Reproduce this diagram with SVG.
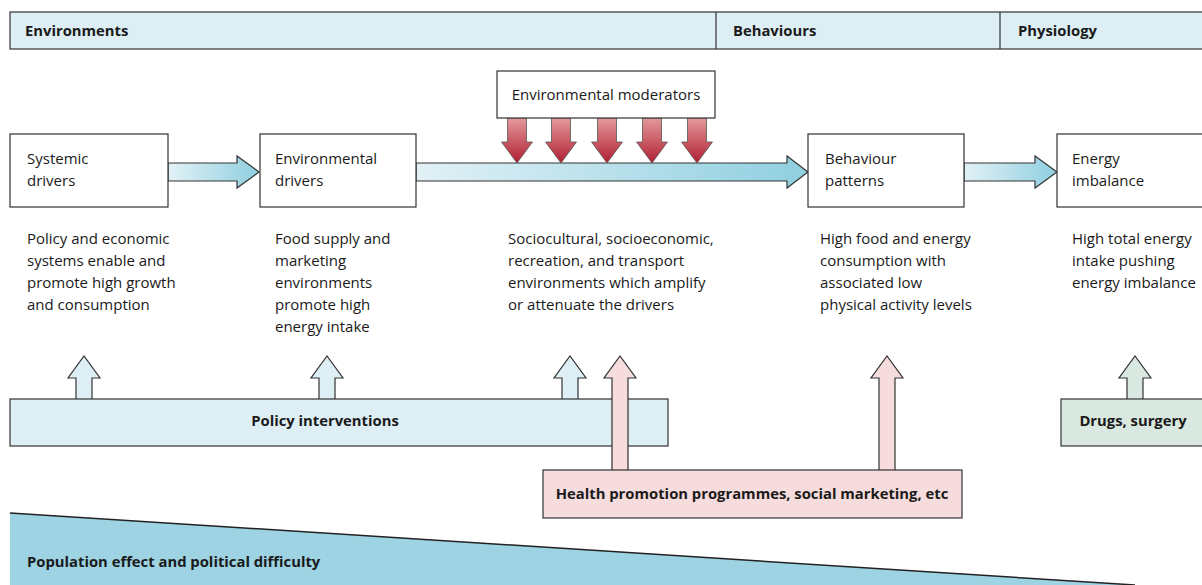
<svg xmlns="http://www.w3.org/2000/svg" width="1202" height="585" viewBox="0 0 1202 585">
<defs>
<linearGradient id="gH" x1="0" y1="0" x2="1" y2="0">
<stop offset="0" stop-color="#e2f1f6"/>
<stop offset="1" stop-color="#8fcfe0"/>
</linearGradient>
<linearGradient id="gR" x1="0" y1="0" x2="0" y2="1">
<stop offset="0" stop-color="#e39a9c"/>
<stop offset="1" stop-color="#b01f32"/>
</linearGradient>
<style>
.t{font-family:"Open Sans","Liberation Sans",sans-serif;font-size:15px;fill:#1a1a1a}
.b{font-family:"Open Sans","Liberation Sans",sans-serif;font-size:14.8px;font-weight:bold;fill:#1a1a1a}
.box{fill:#fff;stroke:#333;stroke-width:1.2}
.ln{stroke:#333;stroke-width:1.2}
.ha{fill:url(#gH);stroke:#333;stroke-width:1.2;stroke-linejoin:miter}
.ra{fill:url(#gR);stroke:#555;stroke-width:0.8}
.ub{fill:#ddeff5;stroke:#333;stroke-width:1.2}
.up{fill:#f6dcdc;stroke:#333;stroke-width:1.2}
.ug{fill:#d9e8e0;stroke:#333;stroke-width:1.2}
</style>
</defs>

<g id="header">
<rect x="10" y="12" width="1200" height="37" fill="#ddeff5" stroke="#333" stroke-width="1.2"/>
<line class="ln" x1="716" y1="12" x2="716" y2="49"/>
<line class="ln" x1="1000" y1="12" x2="1000" y2="49"/>
<text class="b" x="25" y="36">Environments</text>
<text class="b" x="733" y="36">Behaviours</text>
<text class="b" x="1018" y="36">Physiology</text>
</g>

<g id="population">
<polygon points="10,513 1135,585 10,585" fill="#9dd3e3"/>
<line x1="10" y1="513" x2="1135" y2="585" stroke="#222" stroke-width="1.5"/>
<text class="b" x="27" y="567">Population effect and political difficulty</text>
</g>

<g id="connectors">
<path class="ha" d="M168,163 H237 V156 L259,172 L237,188 V181 H168 Z"/>
<path class="ha" d="M416,163 H787 V156 L808,172 L787,188 V181 H416 Z"/>
<path class="ha" d="M964,163 H1035 V156 L1057,172 L1035,188 V181 H964 Z"/>
<path class="ra" d="M507.5,118 V142 H501.5 L517,163 L532.5,142 H526.5 V118 Z"/>
<path class="ra" d="M551.5,118 V142 H545.5 L561,163 L576.5,142 H570.5 V118 Z"/>
<path class="ra" d="M597.5,118 V142 H591.5 L607,163 L622.5,142 H616.5 V118 Z"/>
<path class="ra" d="M642.5,118 V142 H636.5 L652,163 L667.5,142 H661.5 V118 Z"/>
<path class="ra" d="M687.5,118 V142 H681.5 L697,163 L712.5,142 H706.5 V118 Z"/>
<path class="ub" d="M76,399 V378 H68 L84,356 L100,378 H92 V399"/>
<path class="ub" d="M319,399 V378 H311 L327,356 L343,378 H335 V399"/>
<path class="ub" d="M562,399 V378 H554 L570,356 L586,378 H578 V399"/>
<path class="ug" d="M1127,399 V378 H1119 L1135,356 L1151,378 H1143 V399"/>
</g>

<g id="moderators">
<rect class="box" x="497" y="71" width="218" height="47"/>
<text class="t" x="606" y="100" text-anchor="middle">Environmental moderators</text>
</g>

<g id="systemic">
<rect class="box" x="10" y="134" width="158" height="73"/>
<text class="t" x="27" y="164">Systemic</text>
<text class="t" x="27" y="186">drivers</text>
<text class="t" x="27" y="244">Policy and economic</text>
<text class="t" x="27" y="266">systems enable and</text>
<text class="t" x="27" y="288">promote high growth</text>
<text class="t" x="27" y="310">and consumption</text>
</g>

<g id="environmental">
<rect class="box" x="260" y="134" width="156" height="73"/>
<text class="t" x="275" y="164">Environmental</text>
<text class="t" x="275" y="186">drivers</text>
<text class="t" x="275" y="244">Food supply and</text>
<text class="t" x="275" y="266">marketing</text>
<text class="t" x="275" y="288">environments</text>
<text class="t" x="275" y="310">promote high</text>
<text class="t" x="275" y="332">energy intake</text>
</g>

<g id="moderators-text">
<text class="t" x="508" y="244">Sociocultural, socioeconomic,</text>
<text class="t" x="508" y="266">recreation, and transport</text>
<text class="t" x="508" y="288">environments which amplify</text>
<text class="t" x="508" y="310">or attenuate the drivers</text>
</g>

<g id="behaviour">
<rect class="box" x="808" y="134" width="156" height="73"/>
<text class="t" x="825" y="164">Behaviour</text>
<text class="t" x="825" y="186">patterns</text>
<text class="t" x="820" y="244">High food and energy</text>
<text class="t" x="820" y="266">consumption with</text>
<text class="t" x="820" y="288">associated low</text>
<text class="t" x="820" y="310">physical activity levels</text>
</g>

<g id="energy">
<rect class="box" x="1057" y="134" width="160" height="73"/>
<text class="t" x="1072" y="164">Energy</text>
<text class="t" x="1072" y="186">imbalance</text>
<text class="t" x="1072" y="244">High total energy</text>
<text class="t" x="1072" y="266">intake pushing</text>
<text class="t" x="1072" y="288">energy imbalance</text>
</g>

<g id="policy">
<rect x="10" y="399" width="658" height="47" fill="#ddeff5" stroke="#333" stroke-width="1.2"/>
<text class="b" x="325" y="426" text-anchor="middle">Policy interventions</text>
</g>

<g id="drugs">
<rect x="1061" y="399" width="150" height="47" fill="#d9e8e0" stroke="#333" stroke-width="1.2"/>
<text class="b" x="1133" y="426" text-anchor="middle">Drugs, surgery</text>
</g>

<g id="health">
<path class="up" d="M612,470 V378 H604 L620,356 L636,378 H628 V470"/>
<path class="up" d="M879,470 V378 H871 L887,356 L903,378 H895 V470"/>
<rect x="543" y="470" width="419" height="48" fill="#f6dcdc" stroke="#333" stroke-width="1.2"/>
<text class="b" x="752" y="499" text-anchor="middle">Health promotion programmes, social marketing, etc</text>
</g>
</svg>
